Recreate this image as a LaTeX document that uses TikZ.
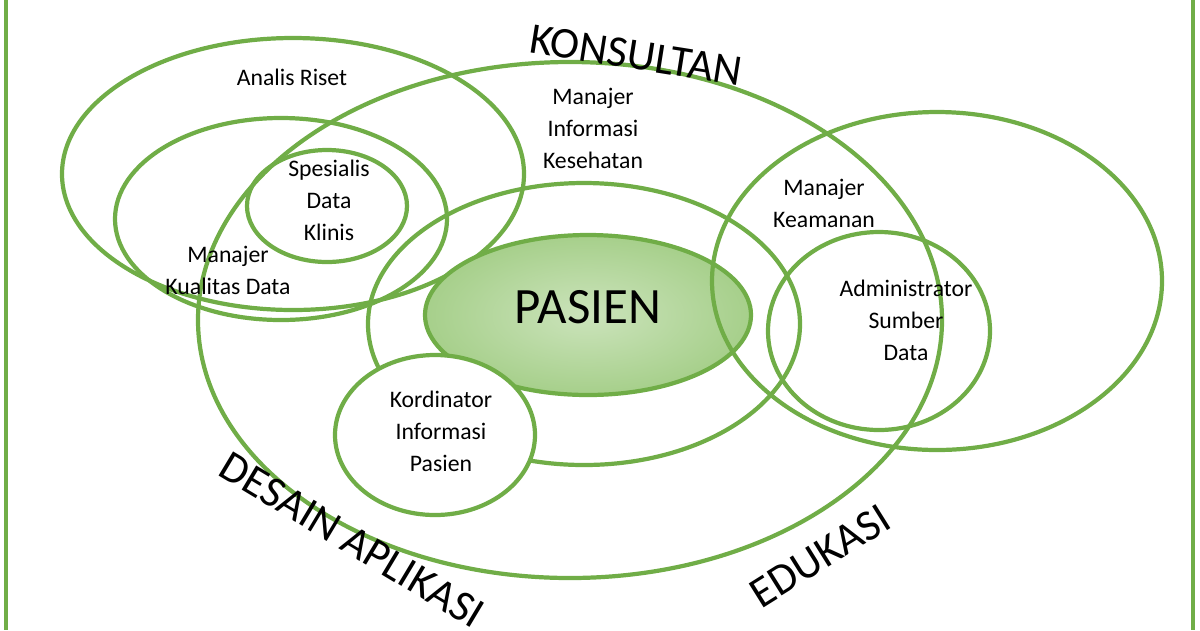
\documentclass[tikz,border=0pt]{standalone}
\usepackage{fontspec}
\setmainfont{Carlito}
\usetikzlibrary{shapes.geometric}
\definecolor{gr}{RGB}{112,173,71}
\definecolor{lg}{RGB}{169,209,142}
\begin{document}
\begin{tikzpicture}[x=0.02cm,y=-0.02cm,
  ring/.style={draw=gr,line width=2.4pt},
  lbl/.style={font=\fontsize{13.5}{18.2}\selectfont,align=center,text=black},
  big/.style={font=\fontsize{25}{28}\selectfont}]
\useasboundingbox (0,0) rectangle (1200,630);
\draw[gr,line width=2.3pt] (6,0) -- (6,630) (1193,0) -- (1193,630);
\draw[ring] (570,320) ellipse (372 and 258);
\draw[ring] (293,174) ellipse (231 and 136);
\draw[ring] (281,219) ellipse (166 and 101);
\draw[ring] (327,206) ellipse (80 and 56);
\draw[ring] (584,324) ellipse (216 and 141);
\shade[inner color=lg!60,outer color=lg!95!gr] (588,315) ellipse (163 and 80);
\draw[ring] (588,315) ellipse (163 and 80);
\draw[ring,fill=white] (435,435) ellipse (100 and 80);
\draw[ring] (937,281) ellipse (225 and 169);
\draw[ring] (879,331) ellipse (111 and 99);
\node[lbl] (ar) at (292,77) {Analis Riset};
\node[lbl] (mik) at (593,128) {Manajer\\Informasi\\Kesehatan};
\node[lbl] (sdk) at (329,200) {Spesialis\\Data\\Klinis};
\node[lbl] (mkd) at (228,270) {Manajer\\Kualitas Data};
\node[lbl] (mk) at (824,203) {Manajer\\Keamanan};
\node[lbl] (asd) at (906,320) {Administrator\\Sumber\\Data};
\node[lbl] (kip) at (441,431) {Kordinator\\Informasi\\Pasien};
\node[font=\fontsize{29}{32}\selectfont] (p) at (588,307) {PASIEN};
\node[big,rotate=-9] (k) at (636,55) {KONSULTAN};
\node[big,rotate=-31] (da) at (352,540) {DESAIN APLIKASI};
\node[big,rotate=32] (ed) at (820,556) {EDUKASI};
\end{tikzpicture}
\end{document}
